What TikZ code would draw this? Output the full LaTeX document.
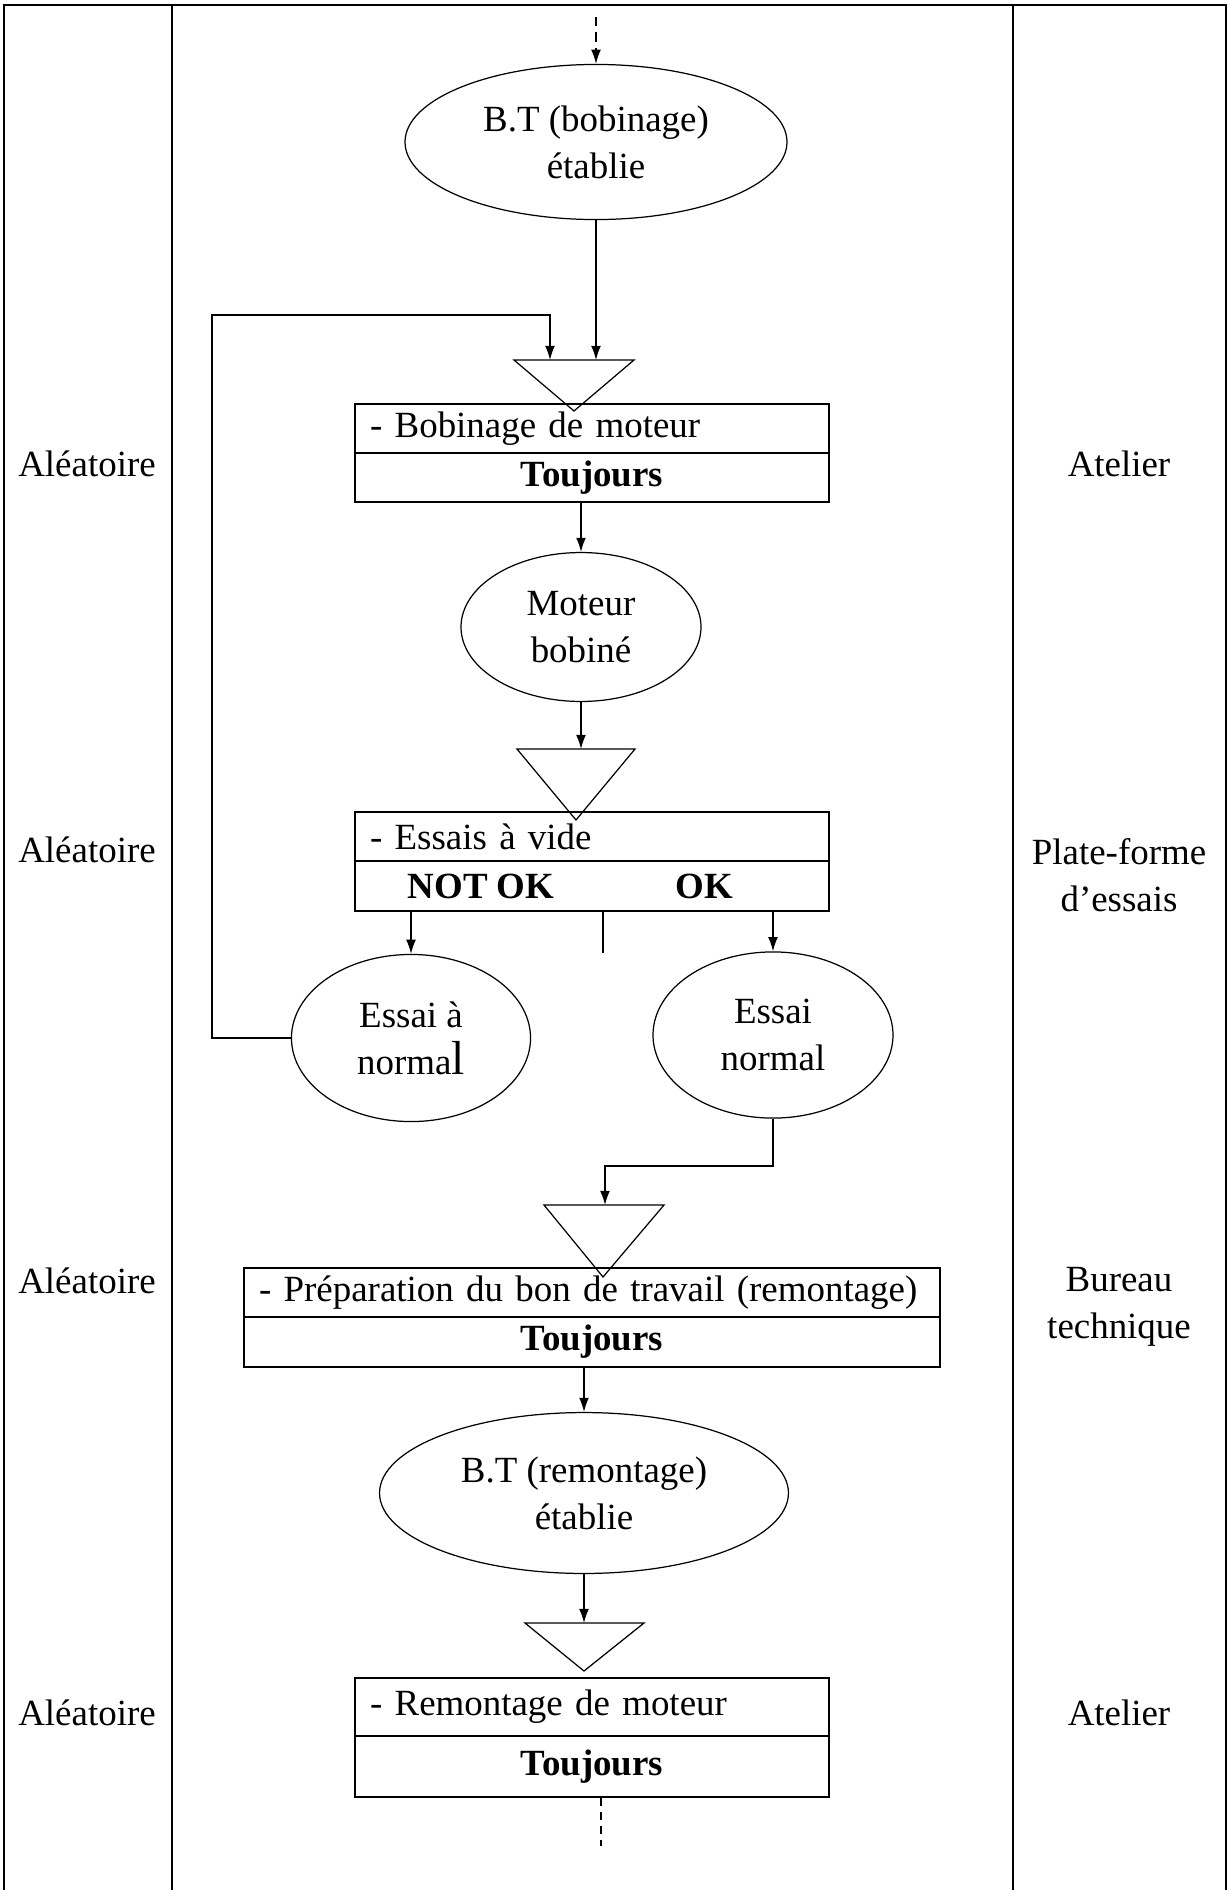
\documentclass[tikz,border=0pt]{standalone}
\usepackage{fontspec}
\setmainfont{Liberation Serif}
\usetikzlibrary{shapes.geometric,arrows.meta,calc}

\begin{document}
\begin{tikzpicture}[x=0.325pt,y=-0.325pt,
  font=\fontsize{12}{15.3}\selectfont,
  frame/.style={line width=0.7pt},
  oval/.style={draw,ellipse,line width=0.4pt,inner sep=0pt,align=center},
  part/.style={draw,rectangle,line width=0.65pt,inner xsep=4.9pt,inner ysep=0pt},
  toppart/.style={part,text width=144.25pt,align=left},
  widetop/.style={part,text width=216.4pt,align=left},
  flow/.style={line width=0.45pt,-{Latex[length=4.6pt,width=3.2pt]}},
  stock/.style={line width=0.4pt},
  lane/.style={align=center}]

\useasboundingbox (0,0) rectangle (1227,1890);

% table frame and column rules
\draw[frame] (4,1890) -- (4,5) -- (1226,5) -- (1226,1890);
\draw[frame] (172,5) -- (172,1890);
\draw[frame] (1013,5) -- (1013,1890);

% left column
\node[lane] (l1) at (87,464)  {Aléatoire};
\node[lane] (l2) at (87,850)  {Aléatoire};
\node[lane] (l3) at (87,1281) {Aléatoire};
\node[lane] (l4) at (87,1713) {Aléatoire};

% right column
\node[lane] (r1) at (1119,464)  {Atelier};
\node[lane] (r2) at (1119,875)  {Plate-forme\\d’essais};
\node[lane] (r3) at (1119,1307) {Bureau\\technique};
\node[lane] (r4) at (1119,1713) {Atelier};

% states
\node[oval,minimum width=124.15pt,minimum height=50.4pt] (e1) at (596,142) {B.T (bobinage)\\établie};
\node[oval,minimum width=78pt,minimum height=48.4pt] (e2) at (581,627) {Moteur\\bobiné};
\node[oval,minimum width=77.7pt,minimum height=54.3pt] (e3) at (411,1038) {Essai à\\norma{\fontsize{15.5}{15.3}\selectfont l}};
\node[oval,minimum width=78pt,minimum height=54pt] (e4) at (773,1035) {Essai\\normal};
\node[oval,minimum width=132.9pt,minimum height=52.3pt] (e5) at (584,1493) {B.T (remontage)\\établie};

% operations
\node[toppart,minimum height=15.93pt] (b1a) at (592,428.5) {- Bobinage de moteur};
\node[part,minimum width=154.05pt,minimum height=15.93pt] (b1b) at (592,477.5) {\bfseries Toujours};

\node[toppart,minimum height=15.93pt] (b2a) at (592,836.5) {- Essais à vide};
\node[part,minimum width=154.05pt,minimum height=16.25pt] (b2b) at (592,886) {};
\node[font=\fontsize{12}{15.3}\selectfont\bfseries] (nok) at (481,886) {NOT OK};
\node[font=\fontsize{12}{15.3}\selectfont\bfseries] (ok) at (704,886) {OK};

\node[widetop,minimum height=15.93pt] (b3a) at (592,1292.5) {- Préparation du bon de travail (remontage)};
\node[part,minimum width=226.2pt,minimum height=16.25pt] (b3b) at (592,1342) {\bfseries Toujours};

\node[toppart,minimum height=18.85pt] (b4a) at (592,1707) {- Remontage de moteur};
\node[part,minimum width=154.05pt,minimum height=19.83pt] (b4b) at (592,1766.5) {\bfseries Toujours};

% waiting triangles
\coordinate (t1) at (574,360);
\draw[stock] (514,360) -- (634,360) -- (574,411) -- cycle;
\coordinate (t2) at (576,749);
\draw[stock] (517,749) -- (635,749) -- (576,820) -- cycle;
\coordinate (t3) at (605,1205);
\draw[stock] (544,1205) -- (664,1205) -- (603,1277) -- cycle;
\coordinate (t4) at (584,1623);
\draw[stock] (525,1623) -- (644,1623) -- (584,1671) -- cycle;

% connectors
\coordinate (start) at (596,17);
\draw[flow,dashed,dash pattern=on 3pt off 2pt] (start) -- (e1.north);
\draw[flow] (e1.south) -- (e1.south |- t1);

\coordinate (fbcorner) at (212,315);
\coordinate (t1fb) at (550,360);
\draw[flow] (e3.west) -| (fbcorner) -| (t1fb);

\draw[flow] (e2.north |- b1b.south) -- (e2.north);
\draw[flow] (e2.south) -- (e2.south |- t2);

\draw[flow] (e3.north |- b2b.south) -- (e3.north);
\draw[flow] (e4.north |- b2b.south) -- (e4.north);
\coordinate (stub) at (603,953);
\draw[line width=0.4pt] (stub |- b2b.south) -- (stub);

\coordinate (join) at (605,1166);
\draw[flow] (e4.south) |- (join) -- (t3);

\draw[flow] (e5.north |- b3b.south) -- (e5.north);
\draw[flow] (e5.south) -- (e5.south |- t4);

\coordinate (finish) at (601,1846);
\draw[line width=0.45pt,dash pattern=on 2.6pt off 2pt] (finish |- b4b.south) -- (finish);

\end{tikzpicture}
\end{document}
